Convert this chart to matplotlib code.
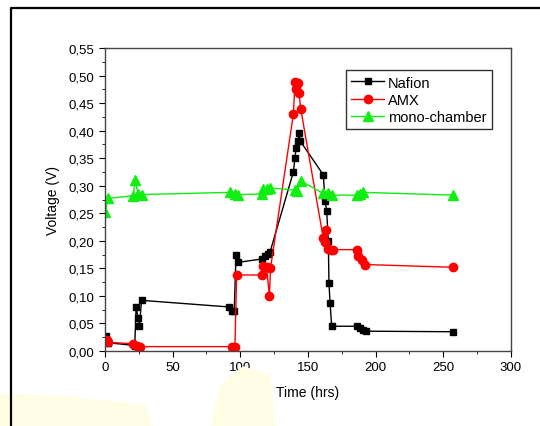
import matplotlib
matplotlib.use("Agg")
import matplotlib.pyplot as plt
from matplotlib.ticker import MultipleLocator, FuncFormatter
from matplotlib.lines import Line2D
from matplotlib.patches import Polygon

# time (hrs) and voltage (V)
nafion_t = [1, 2.5, 22, 23, 24.5, 25.5, 27, 91.6, 93.6, 95.5, 96.8, 98.5, 115.8, 118, 120.7, 122,
            139.2, 140.4, 141.2, 142.9, 143.6, 144, 161.3, 162.6, 163.8, 165, 165.5, 166.3, 167.5,
            186, 188.5, 191, 193, 257.5]
nafion_v = [0.027, 0.015, 0.01, 0.08, 0.06, 0.046, 0.092, 0.08, 0.073, 0.072, 0.174, 0.161, 0.167,
            0.172, 0.176, 0.18, 0.325, 0.351, 0.368, 0.382, 0.395, 0.382, 0.32, 0.273, 0.255, 0.2,
            0.123, 0.088, 0.045, 0.045, 0.042, 0.039, 0.036, 0.035]

amx_t = [1.2, 2.4, 21, 23.4, 25.9, 93.6, 96, 97.3, 115.8, 117, 119.4, 121.5, 122.3,
         139.2, 140.4, 142.3, 141.2, 143.4, 144.6, 161.3, 163.4, 162.6, 165, 167, 168.7,
         186, 187.2, 189.7, 192.2, 257.5]
amx_v = [0.02, 0.016, 0.013, 0.01, 0.008, 0.008, 0.008, 0.138, 0.138, 0.155, 0.152, 0.1, 0.15,
         0.43, 0.489, 0.486, 0.475, 0.468, 0.44, 0.205, 0.22, 0.198, 0.186, 0.184, 0.184,
         0.184, 0.173, 0.165, 0.157, 0.152]

mono_t = [0, 2.5, 21, 22, 24.6, 27, 92.4, 96, 98.5, 115.7, 117, 119.5, 122,
          140.4, 141.7, 144.6, 161.3, 165, 167.5, 186, 188.5, 191, 257.5]
mono_v = [0.252, 0.277, 0.282, 0.31, 0.285, 0.284, 0.288, 0.285, 0.284, 0.285, 0.294, 0.294,
          0.296, 0.292, 0.291, 0.309, 0.286, 0.286, 0.283, 0.283, 0.285, 0.288, 0.283]

plt.rcParams["font.family"] = ["Liberation Sans", "DejaVu Sans"]

fig = plt.figure(figsize=(5.4, 4.27), dpi=100)

# faint yellow blotches along the bottom of the scan
fig.patches.append(Polygon([(0, 0), (0, 0.075), (0.12, 0.07), (0.27, 0.05), (0.28, 0)],
                           closed=True, transform=fig.transFigure,
                           facecolor="#fffde4", edgecolor="none", zorder=0))
fig.patches.append(Polygon([(0.39, 0), (0.41, 0.1), (0.45, 0.14), (0.5, 0.12), (0.51, 0)],
                           closed=True, transform=fig.transFigure,
                           facecolor="#fffde4", edgecolor="none", zorder=0))

# outer frame (left and top edge only visible)
fig.add_artist(Line2D([0.0204, 0.0204, 1.0], [0.0, 0.979, 0.979],
                      transform=fig.transFigure, color="black", lw=1.6))

ax = fig.add_axes([0.1944, 0.1756, 0.7519, 0.7096])
ax.plot(nafion_t, nafion_v, color="black", marker="s", markersize=5, lw=1, label="Nafion")
ax.plot(amx_t, amx_v, color="red", marker="o", markersize=6, lw=1, label="AMX")
ax.plot(mono_t, mono_v, color="#11ee11", marker="^", markersize=7, lw=1, label="mono-chamber")

ax.set_xlim(0, 300)
ax.set_ylim(0, 0.55)
ax.xaxis.set_major_locator(MultipleLocator(50))
ax.xaxis.set_minor_locator(MultipleLocator(25))
ax.yaxis.set_major_locator(MultipleLocator(0.05))
ax.yaxis.set_minor_locator(MultipleLocator(0.025))
ax.yaxis.set_major_formatter(FuncFormatter(lambda v, p: f"{v:.2f}".replace(".", ",")))
ax.tick_params(which="both", direction="out", top=False, right=False, labelsize=9.5)
ax.tick_params(which="major", length=4)
ax.tick_params(which="minor", length=2.5)
for s in ax.spines.values():
    s.set_color("#444444")
    s.set_linewidth(1)

ax.set_xlabel("Time (hrs)", fontsize=10, labelpad=8)
ax.set_ylabel("Voltage (V)", fontsize=10, labelpad=6)

leg = ax.legend(loc="upper right", bbox_to_anchor=(0.97, 0.95), fontsize=10.5,
                frameon=True, fancybox=False, handlelength=2.2, borderpad=0.35,
                labelspacing=0.22, handletextpad=0.3)
leg.get_frame().set_edgecolor("black")
leg.get_frame().set_linewidth(1)

fig.savefig("out.png", dpi=100)
